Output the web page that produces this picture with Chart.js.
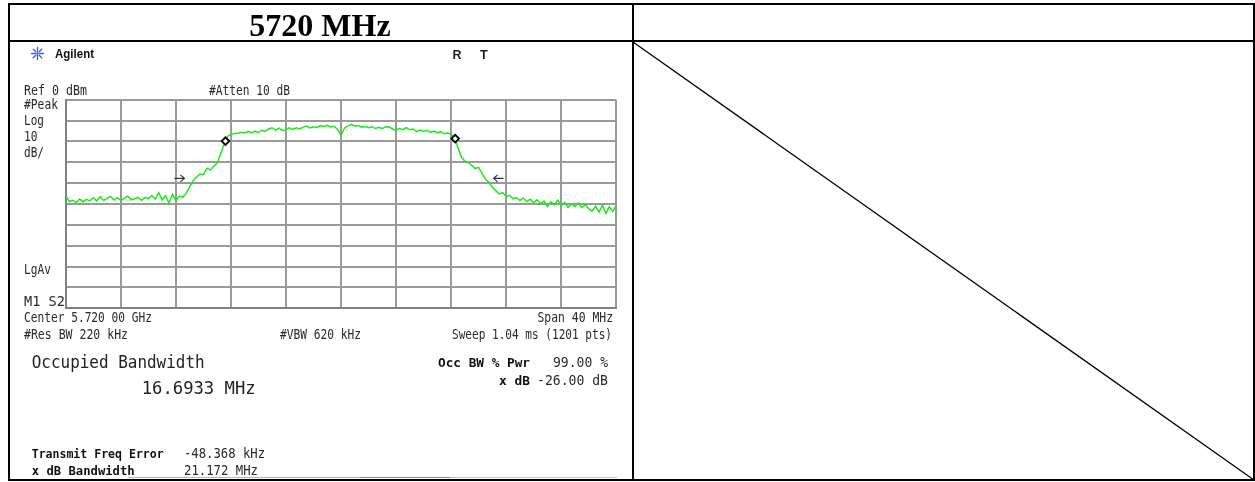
<!DOCTYPE html>
<html>
<head>
<meta charset="utf-8">
<script src="https://cdn.jsdelivr.net/npm/chart.js@4.4.1/dist/chart.umd.min.js"></script>
<style>
  html, body { margin: 0; padding: 0; background: #fff; width: 1255px; height: 482px; overflow: hidden; }
  #plot { position: absolute; left: 60px; top: 94px; width: 562px; height: 220px; }
  #over { position: absolute; left: 0; top: 0; white-space: pre; }
  .mono { font-family: "DejaVu Sans Mono", monospace; font-size: 13.2px; fill: #2a2a2a; }
  .monob { font-family: "DejaVu Sans Mono", monospace; font-size: 13px; font-weight: bold; fill: #111; }
  .big { font-family: "DejaVu Sans Mono", monospace; fill: #222; }
</style>
</head>
<body>
<div id="plot"><canvas id="c" width="562" height="220"></canvas></div>

<svg id="over" width="1255" height="482" xmlns="http://www.w3.org/2000/svg">
  <!-- table frame -->
  <rect x="8" y="3" width="1247" height="2" fill="#000"/>
  <rect x="8" y="40" width="1247" height="2" fill="#000"/>
  <rect x="8" y="479" width="1247" height="2" fill="#000"/>
  <rect x="8" y="3" width="2" height="478" fill="#000"/>
  <rect x="632" y="3" width="2" height="478" fill="#000"/>
  <rect x="1253" y="3" width="2" height="478" fill="#000"/>
  <line x1="633" y1="42" x2="1254" y2="480" stroke="#000" stroke-width="1.3"/>

  <!-- header -->
  <text x="320" y="35.5" text-anchor="middle" font-family="'Liberation Serif', 'Times New Roman', serif" font-weight="bold" font-size="32" fill="#000">5720 MHz</text>

  <!-- analyzer banner -->
  <g stroke="#3a58f0" stroke-width="1.3" stroke-linecap="round">
    <line x1="37.5" y1="47.5" x2="37.5" y2="51.5"/><line x1="37.5" y1="55.5" x2="37.5" y2="59.5"/>
    <line x1="31.5" y1="53.5" x2="35.5" y2="53.5"/><line x1="39.5" y1="53.5" x2="43.5" y2="53.5"/>
    <line x1="33.3" y1="49.3" x2="35.8" y2="51.8"/><line x1="39.2" y1="55.2" x2="41.7" y2="57.7"/>
    <line x1="41.7" y1="49.3" x2="39.2" y2="51.8"/><line x1="35.8" y1="55.2" x2="33.3" y2="57.7"/>
  </g>
  <circle cx="37.5" cy="53.5" r="1.2" fill="#3a58f0"/>
  <text x="55" y="57.5" font-family="'Liberation Sans', Arial, sans-serif" font-weight="bold" font-size="12.5" fill="#111" textLength="39" lengthAdjust="spacingAndGlyphs">Agilent</text>
  <text x="452.5" y="59" font-family="'Liberation Sans', Arial, sans-serif" font-weight="bold" font-size="12.5" fill="#222">R</text>
  <text x="480" y="59" font-family="'Liberation Sans', Arial, sans-serif" font-weight="bold" font-size="12.5" fill="#222">T</text>

  <!-- settings annotations -->
  <text class="mono" x="24" y="95" textLength="63" lengthAdjust="spacingAndGlyphs">Ref 0 dBm</text>
  <text class="mono" x="209" y="95" textLength="81" lengthAdjust="spacingAndGlyphs">#Atten 10 dB</text>
  <text class="mono" x="24" y="109" textLength="34" lengthAdjust="spacingAndGlyphs">#Peak</text>
  <text class="mono" x="24" y="125" textLength="20" lengthAdjust="spacingAndGlyphs">Log</text>
  <text class="mono" x="24" y="141" textLength="13.5" lengthAdjust="spacingAndGlyphs">10</text>
  <text class="mono" x="24" y="157" textLength="20" lengthAdjust="spacingAndGlyphs">dB/</text>
  <text class="mono" x="24" y="274" textLength="27" lengthAdjust="spacingAndGlyphs">LgAv</text>
  <text class="mono" x="24" y="306" textLength="41" lengthAdjust="spacingAndGlyphs">M1  S2</text>
  <text class="mono" x="24" y="322" textLength="128" lengthAdjust="spacingAndGlyphs">Center 5.720 00 GHz</text>
  <text class="mono" x="613" y="322" text-anchor="end" textLength="75.5" lengthAdjust="spacingAndGlyphs">Span 40 MHz</text>
  <text class="mono" x="24" y="338.5" textLength="104" lengthAdjust="spacingAndGlyphs">#Res BW 220 kHz</text>
  <text class="mono" x="280" y="338.5" textLength="81" lengthAdjust="spacingAndGlyphs">#VBW 620 kHz</text>
  <text class="mono" x="612" y="338.5" text-anchor="end" textLength="160" lengthAdjust="spacingAndGlyphs">Sweep 1.04 ms (1201 pts)</text>

  <!-- measurement results -->
  <text class="big" x="31.7" y="367.5" font-size="18" textLength="173" lengthAdjust="spacingAndGlyphs">Occupied Bandwidth</text>
  <text class="big" x="141.7" y="393.5" font-size="18.5" textLength="114" lengthAdjust="spacingAndGlyphs">16.6933 MHz</text>
  <text class="monob" x="438" y="367" textLength="92" lengthAdjust="spacingAndGlyphs">Occ BW % Pwr</text>
  <text class="mono" x="608" y="367" text-anchor="end" textLength="55" lengthAdjust="spacingAndGlyphs">99.00 %</text>
  <text class="monob" x="530" y="385" text-anchor="end" textLength="31" lengthAdjust="spacingAndGlyphs">x dB</text>
  <text class="mono" x="608" y="385" text-anchor="end" textLength="71" lengthAdjust="spacingAndGlyphs">-26.00 dB</text>
  <text class="monob" x="31.7" y="458" textLength="132" lengthAdjust="spacingAndGlyphs">Transmit Freq Error</text>
  <text class="mono" x="184" y="458" textLength="81" lengthAdjust="spacingAndGlyphs">-48.368 kHz</text>
  <text class="monob" x="31.7" y="475" textLength="103" lengthAdjust="spacingAndGlyphs">x dB Bandwidth</text>
  <text class="mono" x="184" y="475" textLength="74" lengthAdjust="spacingAndGlyphs">21.172 MHz</text>

  <!-- softkey strip edge -->
  <line x1="128" y1="477.5" x2="360" y2="477.5" stroke="#b5b5b5" stroke-width="1.2"/>
  <line x1="360" y1="477.5" x2="450" y2="477.5" stroke="#8a8a8a" stroke-width="1.2"/>
  <line x1="450" y1="477.5" x2="617" y2="477.5" stroke="#c8c8c8" stroke-width="1.2"/>
</svg>

<script>
// Sweep setup
const centerMHz = 5720;
const spanMHz = 40;
const sweepStepMHz = 0.25;
const refLevelDbm = 0;
const dbPerDiv = 10;
const verticalDivs = 10;
const freqDivs = 10;

// Peak-hold trace, dBm, one value per sweep step from 5700 MHz to 5740 MHz
const traceDbm = [
  -46.0, -48.8, -48.2, -49.3, -47.6, -48.9, -47.8, -48.5, -47.0, -48.6,
  -46.5, -48.3, -47.2, -46.4, -48.1, -47.0, -48.4, -47.3, -46.2, -48.0,
  -47.5, -46.8, -48.2, -46.9, -47.4, -45.9, -47.6, -44.6, -48.1, -46.0,
  -49.6, -45.3, -48.4, -46.2, -46.8, -44.9, -41.8, -38.9, -37.2, -35.6,
  -35.9, -32.8, -33.7, -31.9, -30.4, -25.9, -21.4, -17.6, -16.6, -16.2,
  -16.0, -15.6, -15.9, -15.1, -15.8, -15.0, -15.7, -14.6, -15.2, -14.0,
  -13.4, -14.5, -13.6, -14.8, -14.3, -13.5, -14.2, -13.4, -14.0, -13.1,
  -12.6, -13.5, -12.9, -13.3, -12.4, -12.8, -12.2, -13.0, -12.7, -14.2,
  -17.0, -13.6, -12.5, -11.9, -12.6, -12.3, -13.1, -12.8, -13.4, -12.9,
  -13.7, -13.2, -13.8, -12.9, -13.1, -14.0, -14.6, -13.7, -14.3, -13.3,
  -14.4, -14.0, -15.3, -14.5, -15.1, -14.6, -15.6, -15.0, -15.8, -15.3,
  -16.3, -15.9, -16.6, -17.9, -23.0, -27.6, -29.4, -30.1, -31.4, -33.0,
  -32.4, -35.2, -38.1, -39.6, -42.0, -43.6, -45.2, -44.6, -46.4, -45.8,
  -47.5, -46.9, -48.3, -47.1, -48.9, -47.7, -49.4, -48.0, -49.8, -48.6,
  -51.3, -49.0, -50.4, -48.1, -50.9, -49.2, -51.6, -50.0, -51.2, -49.5,
  -51.8, -50.3, -52.2, -53.4, -51.0, -53.9, -50.6, -54.5, -51.3, -53.6,
  -50.8
];

// Occupied-bandwidth edge markers (99 % power)
const occBwEdgeMHz = [5711.605, 5728.298];
const occBwEdgeDbm = [-19.8, -18.6];

// x dB bandwidth pointers (tip frequency, direction: +1 points right, -1 points left)
const xdbArrowMHz = [5708.62, 5731.09];
const xdbArrowDir = [1, -1];
const xdbArrowDbm = -37.7;

const startMHz = centerMHz - spanMHz / 2;
const stopMHz = centerMHz + spanMHz / 2;
const tracePoints = traceDbm.map((v, i) => ({ x: startMHz + i * sweepStepMHz, y: v }));
const markerPoints = occBwEdgeMHz.map((f, i) => ({ x: f, y: occBwEdgeDbm[i] }));

const xdbArrows = {
  id: 'xdbArrows',
  afterDatasetsDraw(chart) {
    const { ctx, scales: { x, y } } = chart;
    ctx.save();
    ctx.strokeStyle = '#333';
    ctx.lineWidth = 1.2;
    xdbArrowMHz.forEach((f, i) => {
      const px = x.getPixelForValue(f);
      const py = y.getPixelForValue(xdbArrowDbm);
      const d = xdbArrowDir[i];
      ctx.beginPath();
      ctx.moveTo(px - d * 10, py);
      ctx.lineTo(px, py);
      ctx.moveTo(px - d * 4, py - 3.5);
      ctx.lineTo(px, py);
      ctx.lineTo(px - d * 4, py + 3.5);
      ctx.stroke();
    });
    ctx.restore();
  }
};

const gridStyle = { color: '#9a9a9a', lineWidth: 2, drawTicks: false };
const borderStyle = { color: '#808080', width: 2 };

new Chart(document.getElementById('c'), {
  type: 'line',
  data: {
    datasets: [
      {
        data: markerPoints,
        showLine: false,
        pointStyle: 'rectRot',
        pointRadius: 3.8,
        borderColor: '#000',
        backgroundColor: '#fff',
        borderWidth: 1.8,
        order: 0
      },
      {
        data: tracePoints,
        borderColor: '#1ee81e',
        borderWidth: 1.5,
        pointRadius: 0,
        tension: 0,
        order: 1
      }
    ]
  },
  options: {
    responsive: false,
    animation: false,
    events: [],
    layout: { padding: { left: 5, top: 5, right: 5, bottom: 5 } },
    plugins: { legend: { display: false }, tooltip: { enabled: false } },
    scales: {
      x: {
        type: 'linear',
        min: startMHz,
        max: stopMHz,
        ticks: { display: false, stepSize: spanMHz / freqDivs },
        grid: gridStyle,
        border: borderStyle
      },
      y: {
        min: refLevelDbm - dbPerDiv * verticalDivs,
        max: refLevelDbm,
        ticks: { display: false, stepSize: dbPerDiv },
        grid: gridStyle,
        border: borderStyle
      }
    }
  },
  plugins: [xdbArrows]
});
</script>
</body>
</html>
